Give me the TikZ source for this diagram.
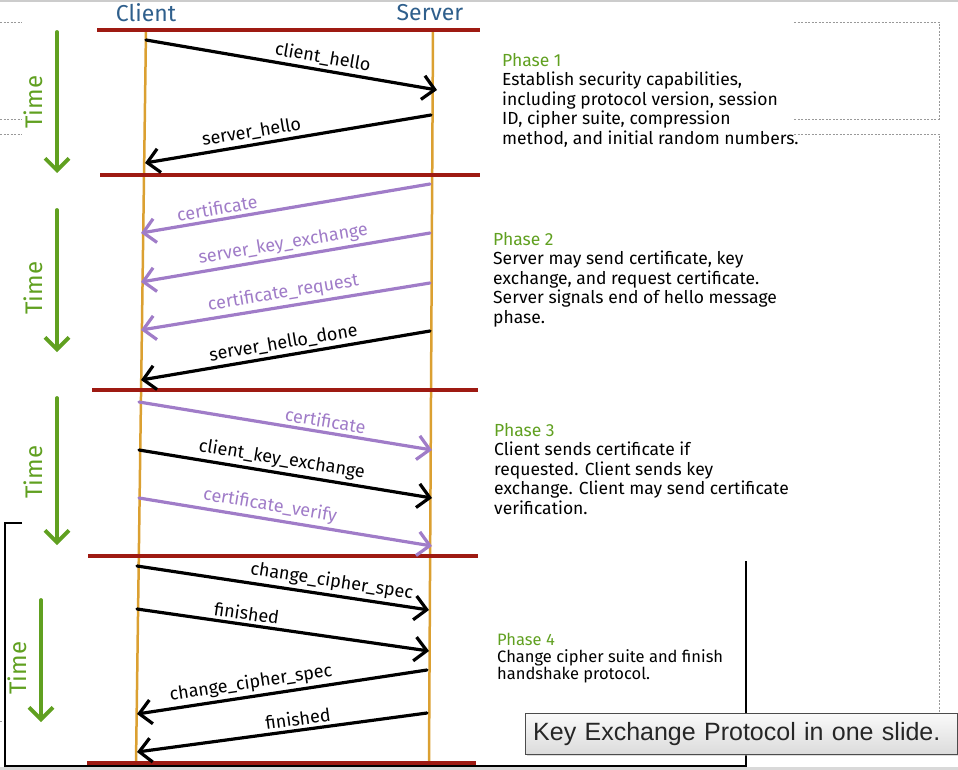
\documentclass[tikz,border=0pt]{standalone}
\usepackage{fontspec}
\setmainfont{Fira Sans}
\newfontfamily\capfont{Liberation Sans}
\usepackage{xcolor}
\definecolor{sepred}{RGB}{158,26,18}
\definecolor{lifeorange}{RGB}{219,160,49}
\definecolor{timegreen}{RGB}{96,160,32}
\definecolor{msgpurple}{RGB}{160,124,200}
\definecolor{headblue}{RGB}{47,95,140}
\usepackage{tikz}
\usetikzlibrary{arrows.meta,positioning,shadows}

\begin{document}
\begin{tikzpicture}[
    x=1pt, y=-1pt,
    head/.style={font=\fontsize{23}{25}\selectfont, text=headblue, inner sep=0pt},
    sep/.style={draw=sepred, line width=4pt},
    life/.style={draw=lifeorange, line width=2.5pt},
    timearrow/.style={-{Straight Barb[length=12pt,width=24pt]}, draw=timegreen, line width=3.8pt, line cap=round},
    timelbl/.style={rotate=90, font=\fontsize{24}{26}\selectfont, text=timegreen, inner sep=0pt},
    msg/.style={-{Straight Barb[length=12pt,width=24pt]}, line width=3.2pt, line cap=round},
    opt/.style={msg, draw=msgpurple},
    lbl/.style={sloped, above=2.5pt, font=\fontsize{18}{20}\selectfont, inner sep=0.5pt},
    optlbl/.style={lbl, text=msgpurple},
    phase/.style={anchor=north west, align=left, inner sep=0pt, font=\fontsize{17.5}{19.5}\selectfont},
    slideline/.style={draw=gray!80, line width=0.9pt, dash pattern=on 2pt off 1.5pt},
    capbox/.style={anchor=north west, draw=gray!60!black, top color=gray!4, bottom color=gray!28,
        minimum width=432pt, minimum height=41pt, text width=416pt, align=left, inner xsep=8pt,
        font=\capfont\fontsize{25}{27}\selectfont, text=black!85,
        drop shadow={shadow xshift=2pt, shadow yshift=-2pt, fill=gray!55}},
]
\useasboundingbox (0,0) rectangle (958,770);

% slide leftovers behind the diagram
\draw[gray!40, line width=2pt] (0,1) -- (958,1);
\fill[gray!30] (0,767) rectangle (958,770);
\draw[slideline] (0,22) -- (22,22);
\draw[slideline] (0,119) -- (22,119);
\draw[slideline] (0,134) -- (22,134);
\draw[slideline] (0,721) -- (5,721);
\draw[slideline] (794,22) -- (939,22) -- (939,119) -- (794,119);
\draw[slideline] (794,134) -- (939,134) -- (939,713);
\draw[black, line width=1.3pt] (22,523) -- (5,523) -- (5,766) -- (746,766) -- (746,561);

% Parties
\node[head] (client) at (146,13) {Client};
\node[head] (server) at (430,13) {Server};
\coordinate (cliTop) at (146,30);
\coordinate (cliBot) at (136,763);
\coordinate (srvTop) at (433,30);
\coordinate (srvBot) at (429,763);
\draw[life] (cliTop) -- (cliBot);
\draw[life] (srvTop) -- (srvBot);

% Phase separators
\draw[sep] (97,30) -- (480,30);
\draw[sep] (100,175) -- (480,175);
\draw[sep] (92,390) -- (478,390);
\draw[sep] (88,556) -- (478,556);
\draw[sep] (87,763) -- (476,763);

% Phase 1
\draw[timearrow] (57,32) -- (57,173);
\node[timelbl] (time1) at (33,102) {Time};
\coordinate (m1s) at (146,40);
\coordinate (m1e) at (437,90);
\draw[msg] (m1s) -- node[lbl, pos=.6] (l1) {client\_hello} (m1e);
\coordinate (m2s) at (431,115);
\coordinate (m2e) at (145,163);
\draw[msg] (m2s) -- node[lbl, pos=.62] (l2) {server\_hello} (m2e);
\node[phase] (p1) at (502,53) {\textcolor{timegreen}{Phase 1}\\Establish security capabilities,\\including protocol version, session\\ID, cipher suite, compression\\method, and initial random numbers.};

% Phase 2
\draw[timearrow] (57,210) -- (57,352);
\node[timelbl] (time2) at (33,288) {Time};
\coordinate (m3s) at (430,184);
\coordinate (m3e) at (141,233);
\draw[opt] (m3s) -- node[optlbl, pos=.73] (l3) {certificate} (m3e);
\coordinate (m4s) at (430,233);
\coordinate (m4e) at (141,282);
\draw[opt] (m4s) -- node[optlbl, pos=.5] (l4) {server\_key\_exchange} (m4e);
\coordinate (m5s) at (430,283);
\coordinate (m5e) at (141,330);
\draw[opt] (m5s) -- node[optlbl, pos=.5] (l5) {certificate\_request} (m5e);
\coordinate (m6s) at (430,331);
\coordinate (m6e) at (141,380);
\draw[msg] (m6s) -- node[lbl, pos=.5] (l6) {server\_hello\_done} (m6e);
\node[phase] (p2) at (493,232) {\textcolor{timegreen}{Phase 2}\\Server may send certificate, key\\exchange, and request certificate.\\Server signals end of hello message\\phase.};

% Phase 3
\draw[timearrow] (57,398) -- (57,545);
\node[timelbl] (time3) at (33,472) {Time};
\coordinate (m7s) at (139,402);
\coordinate (m7e) at (432,450);
\draw[opt] (m7s) -- node[optlbl, pos=.63] (l7) {certificate} (m7e);
\coordinate (m8s) at (139,450);
\coordinate (m8e) at (432,498);
\draw[msg] (m8s) -- node[lbl, pos=.48] (l8) {client\_key\_exchange} (m8e);
\coordinate (m9s) at (139,498);
\coordinate (m9e) at (432,546);
\draw[opt] (m9s) -- node[optlbl, pos=.44] (l9) {certificate\_verify} (m9e);
\node[phase] (p3) at (494,423) {\textcolor{timegreen}{Phase 3}\\Client sends certificate if\\requested. Client sends key\\exchange. Client may send certificate\\verification.};

% Phase 4
\draw[timearrow] (41,600) -- (41,722);
\node[timelbl] (time4) at (17,668) {Time};
\coordinate (m10s) at (137,566);
\coordinate (m10e) at (429,610);
\draw[msg] (m10s) -- node[lbl, pos=.66] (l10) {change\_cipher\_spec} (m10e);
\coordinate (m11s) at (137,609);
\coordinate (m11e) at (429,651);
\draw[msg] (m11s) -- node[lbl, pos=.37] (l11) {finished} (m11e);
\coordinate (m12s) at (427,670);
\coordinate (m12e) at (137,714);
\draw[msg] (m12s) -- node[lbl, pos=.6] (l12) {change\_cipher\_spec} (m12e);
\coordinate (m13s) at (427,713);
\coordinate (m13e) at (137,752);
\draw[msg] (m13s) -- node[lbl, pos=.44] (l13) {finished} (m13e);
\node[phase, font=\fontsize{16.5}{17}\selectfont] (p4) at (497,633) {\textcolor{timegreen}{Phase 4}\\Change cipher suite and finish\\handshake protocol.};

% caption
\node[capbox] (cap) at (525,713) {Key Exchange Protocol in one slide.};

\end{tikzpicture}
\end{document}
